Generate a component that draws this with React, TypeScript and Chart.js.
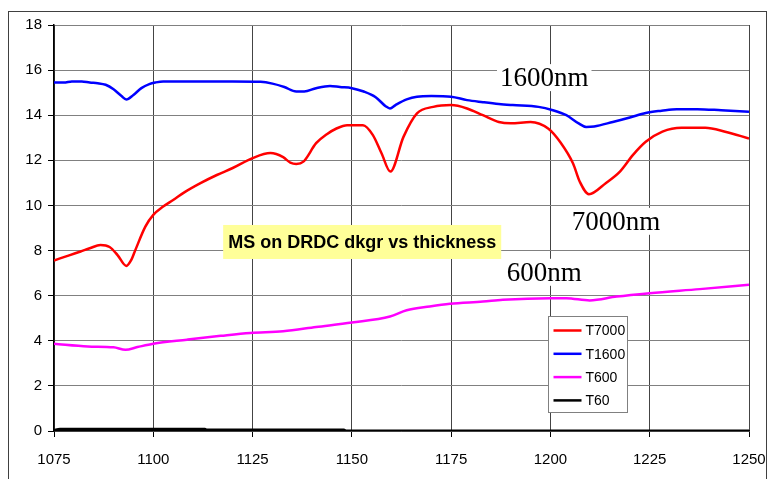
import React, { useEffect, useRef } from "react";
import { Chart, registerables } from "chart.js";

Chart.register(...registerables);

const xTicks = { min: 1075, max: 1250, step: 25 };
const yTicks = { min: 0, max: 18, step: 2 };

const seriesNames = ["T7000", "T1600", "T600", "T60"];
const seriesColors = ["#FF0000", "#0000FF", "#FF00FF", "#000000"];

const t7000X = [1075, 1079, 1081.7, 1084, 1086.7, 1089, 1091, 1093.2, 1094.5, 1095.5, 1098, 1100, 1102.5, 1105, 1108, 1112, 1116, 1120, 1125, 1129.5, 1132.7, 1134.5, 1136, 1137.8, 1141, 1143.7, 1146, 1148.8, 1152.8, 1155.3, 1157.5, 1159.7, 1163, 1166.4, 1170.5, 1175, 1179, 1183, 1187, 1190, 1195, 1199.5, 1202.5, 1205.7, 1207.4, 1209.7, 1214, 1217.5, 1220.8, 1224, 1228.2, 1233, 1239, 1244, 1250];
const t7000Y = [7.56, 7.8, 7.96, 8.1, 8.25, 8.16, 7.8, 7.32, 7.6, 8.03, 9.06, 9.58, 9.95, 10.24, 10.6, 11.0, 11.35, 11.66, 12.1, 12.32, 12.14, 11.9, 11.84, 11.94, 12.76, 13.16, 13.4, 13.56, 13.56, 13.12, 12.3, 11.5, 13.04, 14.08, 14.37, 14.45, 14.3, 14.0, 13.7, 13.64, 13.7, 13.4, 12.8, 11.86, 11.05, 10.5, 11.0, 11.5, 12.24, 12.82, 13.27, 13.44, 13.44, 13.27, 12.97];

const t1600X = [1075, 1077.5, 1079.5, 1082, 1084, 1086, 1088, 1090, 1092, 1093.2, 1095, 1097, 1099, 1100.5, 1102.5, 1110, 1120, 1127, 1130, 1133, 1136, 1138, 1141, 1144.5, 1147, 1150, 1153, 1156, 1158.5, 1159.6, 1161, 1163.8, 1166.4, 1170, 1175, 1179, 1183, 1187, 1190.5, 1197, 1200.6, 1204, 1207, 1209, 1211, 1215.7, 1220, 1224, 1228, 1231.8, 1237, 1243, 1250];
const t1600Y = [15.45, 15.45, 15.5, 15.5, 15.45, 15.42, 15.35, 15.15, 14.85, 14.7, 14.9, 15.2, 15.38, 15.45, 15.5, 15.5, 15.5, 15.48, 15.4, 15.25, 15.05, 15.05, 15.2, 15.3, 15.25, 15.2, 15.05, 14.8, 14.4, 14.3, 14.45, 14.7, 14.82, 14.85, 14.82, 14.67, 14.58, 14.5, 14.45, 14.37, 14.22, 14.0, 13.65, 13.48, 13.5, 13.7, 13.9, 14.1, 14.2, 14.27, 14.27, 14.22, 14.15];

const t600X = [1075, 1083.5, 1090, 1093, 1096, 1100, 1108.5, 1117, 1124.4, 1132.7, 1141, 1150, 1159.6, 1163.8, 1169.6, 1174.7, 1183, 1188, 1200, 1204, 1209.9, 1216.7, 1225, 1237.6, 1250];
const t600Y = [3.87, 3.75, 3.71, 3.6, 3.72, 3.87, 4.05, 4.22, 4.35, 4.42, 4.61, 4.81, 5.08, 5.35, 5.52, 5.64, 5.74, 5.82, 5.89, 5.89, 5.79, 5.96, 6.11, 6.29, 6.48];

const t60X = [1075, 1076.5, 1113, 1113.5, 1148, 1148.5, 1250];
const t60Y = [0.02, 0.08, 0.08, 0.04, 0.04, 0.0, 0.0];

const titleText = "MS on DRDC dkgr vs thickness";
const titleAt = { x: 1152.6, y: 8.38 };

const noteTexts = ["1600nm", "7000nm", "600nm"];
const noteX = [1187.3, 1205.4, 1189];
const noteY = [15.29, 8.92, 6.66];

const legendAt = { x: 1199.3, y: 5.11 };

const toPoints = (xs: number[], ys: number[]) => xs.map((x, i) => ({ x, y: ys[i] }));

const SANS = "'Liberation Sans', Arial, sans-serif";
const SERIF = "'Liberation Serif', 'Times New Roman', serif";

const overlayPlugin = {
  id: "overlay",
  beforeDatasetsDraw(chart: any) {
    const { ctx, scales } = chart;
    const xs = scales.x;
    const ys = scales.y;
    ctx.save();
    ctx.font = `27px ${SERIF}`;
    ctx.textBaseline = "alphabetic";
    ctx.textAlign = "left";
    noteTexts.forEach((t, i) => {
      const px = xs.getPixelForValue(noteX[i]);
      const py = ys.getPixelForValue(noteY[i]);
      const w = ctx.measureText(t).width;
      ctx.fillStyle = "#ffffff";
      ctx.fillRect(px - 3, py - 22, w + 6, 27);
      ctx.fillStyle = "#000000";
      ctx.fillText(t, px, py);
    });
    ctx.font = `bold 18px ${SANS}`;
    const tw = ctx.measureText(titleText).width;
    const cx = xs.getPixelForValue(titleAt.x);
    const cy = ys.getPixelForValue(titleAt.y);
    ctx.fillStyle = "#FFFF99";
    ctx.fillRect(cx - tw / 2 - 5, cy - 17, tw + 10, 34);
    ctx.fillStyle = "#000000";
    ctx.textAlign = "center";
    ctx.textBaseline = "middle";
    ctx.fillText(titleText, cx, cy + 1);
    ctx.restore();
  },
  afterDraw(chart: any) {
    const { ctx, scales } = chart;
    const lx = Math.round(scales.x.getPixelForValue(legendAt.x)) + 0.5;
    const ly = Math.round(scales.y.getPixelForValue(legendAt.y)) + 0.5;
    const w = 79;
    const h = 96;
    ctx.save();
    ctx.fillStyle = "#ffffff";
    ctx.fillRect(lx, ly, w, h);
    ctx.strokeStyle = "#808080";
    ctx.lineWidth = 1;
    ctx.strokeRect(lx, ly, w, h);
    ctx.font = `14px ${SANS}`;
    ctx.textBaseline = "middle";
    ctx.textAlign = "left";
    chart.data.datasets.forEach((ds: any, i: number) => {
      const yy = ly + 14 + i * 23.3;
      ctx.strokeStyle = ds.borderColor;
      ctx.lineWidth = 2.5;
      ctx.beginPath();
      ctx.moveTo(lx + 5, yy);
      ctx.lineTo(lx + 33, yy);
      ctx.stroke();
      ctx.fillStyle = "#000000";
      ctx.fillText(ds.label, lx + 37, yy + 1);
    });
    ctx.restore();
  },
};

export default function App() {
  const ref = useRef<HTMLCanvasElement | null>(null);
  useEffect(() => {
    if (!ref.current) return;
    const xsets = [t7000X, t1600X, t600X, t60X];
    const ysets = [t7000Y, t1600Y, t600Y, t60Y];
    const chart = new Chart(ref.current, {
      type: "line",
      data: {
        datasets: seriesNames.map((name, i) => ({
          label: name,
          data: toPoints(xsets[i], ysets[i]),
          borderColor: seriesColors[i],
          backgroundColor: seriesColors[i],
          borderWidth: i === 3 ? 3 : 2.5,
          pointRadius: 0,
          cubicInterpolationMode: "monotone" as const,
          fill: false,
        })),
      },
      options: {
        responsive: false,
        animation: false,
        devicePixelRatio: 1,
        layout: { padding: { left: 9, top: 25, right: 20, bottom: 0 } },
        plugins: { legend: { display: false }, tooltip: { enabled: false }, title: { display: false } },
        scales: {
          x: {
            type: "linear",
            min: xTicks.min,
            max: xTicks.max,
            ticks: {
              stepSize: xTicks.step,
              callback: (v: any) => String(v),
              color: "#000",
              font: { family: SANS, size: 15 },
              padding: 14,
              maxRotation: 0,
            },
            grid: { color: "#444", lineWidth: 1, tickLength: 6, tickColor: "#000" },
            border: { color: "#000", width: 1.5 },
            afterFit: (s: any) => {
              s.height = 48;
              s.paddingLeft = 0;
              s.paddingRight = 0;
            },
          },
          y: {
            min: yTicks.min,
            max: yTicks.max,
            ticks: {
              stepSize: yTicks.step,
              color: "#000",
              font: { family: SANS, size: 15 },
              padding: 6,
            },
            grid: { color: "#808080", lineWidth: 1, tickLength: 6, tickColor: "#000" },
            border: { color: "#000", width: 1.5 },
            afterFit: (s: any) => {
              s.width = 45;
              s.paddingTop = 0;
              s.paddingBottom = 0;
            },
          },
        },
      },
      plugins: [overlayPlugin],
    } as any);
    return () => chart.destroy();
  }, []);
  return (
    <div style={{ position: "fixed", left: 0, top: 0, width: 769, height: 479, background: "#fff", overflow: "hidden" }}>
      <div style={{ position: "absolute", left: 8, top: 11, width: 757, height: 480, border: "1px solid #404040" }} />
      <canvas ref={ref} width={769} height={479} style={{ position: "absolute", left: 0, top: 0, width: 769, height: 479 }} />
    </div>
  );
}
